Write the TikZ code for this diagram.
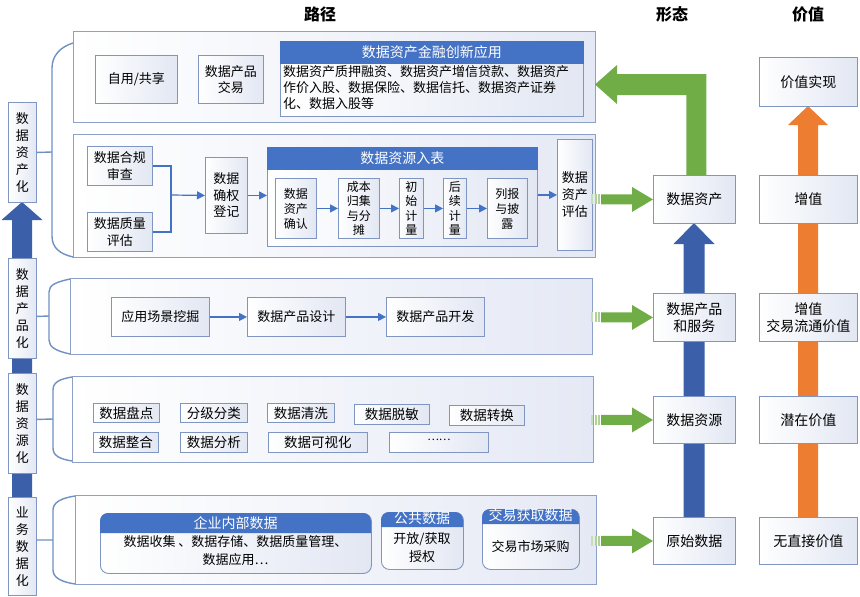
\documentclass[tikz,border=0pt]{standalone}
\usepackage{fontspec}
\setmainfont{Noto Sans CJK SC}
\usetikzlibrary{arrows.meta}
\definecolor{bord}{RGB}{127,150,195}
\definecolor{pbord}{RGB}{140,160,200}
\definecolor{bfill}{RGB}{226,231,243}
\definecolor{pfill}{RGB}{229,233,245}
\definecolor{hdr}{RGB}{68,114,196}
\definecolor{blu}{RGB}{59,95,168}
\definecolor{grn}{RGB}{112,173,71}
\definecolor{org}{RGB}{237,125,49}
\definecolor{brkc}{RGB}{110,145,196}
\newcommand\fs[2]{\fontsize{#1}{#2}\selectfont}
\newcommand\bx[6][]{\node[box,minimum width=#4pt,minimum height=#5pt,#1] (#2) at (#3) {#6};}
\newcommand\hd[6][]{\node[hdrbox,minimum width=#4pt,minimum height=#5pt,#1] (#2) at (#3) {#6};}
\newcommand\garr[1]{%
 \fill[grn] ([xshift=-52pt,yshift=5pt]#1.west) -- ([xshift=-21pt,yshift=5pt]#1.west) -- ([xshift=-21pt,yshift=12.5pt]#1.west) -- (#1.west) -- ([xshift=-21pt,yshift=-12.5pt]#1.west) -- ([xshift=-21pt,yshift=-5pt]#1.west) -- ([xshift=-52pt,yshift=-5pt]#1.west) -- cycle;
 \fill[grn!55] ([xshift=-55pt,yshift=5pt]#1.west) rectangle ([xshift=-53pt,yshift=-5pt]#1.west);
 \fill[grn!55] ([xshift=-58.5pt,yshift=5pt]#1.west) rectangle ([xshift=-56.5pt,yshift=-5pt]#1.west);
 \fill[grn!40] ([xshift=-62pt,yshift=5pt]#1.west) rectangle ([xshift=-60pt,yshift=-5pt]#1.west);
}
\begin{document}
\begin{tikzpicture}[x=1pt,y=-1pt,
 box/.style={draw=bord,line width=0.9pt,left color=white,right color=bfill,anchor=north west,inner sep=1pt,align=center,font=\fs{13}{16.5}},
 panel/.style={box,draw=pbord,right color=pfill},
 hdrbox/.style={anchor=north west,fill=hdr,draw=hdr,line width=0.9pt,inner sep=0pt,text=white,font=\fs{14}{16}},
 conn/.style={draw=hdr,line width=1.2pt},
 arr/.style={conn,-{Triangle[length=8pt,width=8pt]}},
 brk/.style={draw=brkc,line width=1.4pt},
 ttl/.style={font=\fs{16}{18}\bfseries},
 txt/.style={inner sep=0pt,align=center,font=\fs{13}{17}}
]
\useasboundingbox (0,0) rectangle (860,597);
% titles
\node[ttl] (t1) at (320,14) {路径};
\node[ttl] (t2) at (672,14) {形态};
\node[ttl] (t3) at (808,14) {价值};

% panels
\bx[panel]{P1}{73,31}{522}{91}{}
\bx[panel]{P2}{73,134}{522}{123}{}
\bx[panel]{P3}{70,278}{522}{76}{}
\bx[panel]{P4}{72,376}{521}{86}{}
\bx[panel]{P5}{75,495}{521}{89}{}

% left blue arrow (behind labels)
\coordinate (lb) at (22,595);
\coordinate (lt) at (22,202);
\fill[blu] ([xshift=-10pt]lb) -- ([xshift=-10pt,yshift=-18pt]lt) -- ([xshift=-20.5pt,yshift=-18pt]lt) -- (lt) -- ([xshift=20.5pt,yshift=-18pt]lt) -- ([xshift=10pt,yshift=-18pt]lt) -- ([xshift=10pt]lb) -- cycle;

% left labels
\bx[font=\fs{13}{17}]{L1}{8,102}{28}{100}{数\\据\\资\\产\\化}
\bx[font=\fs{13}{17}]{L2}{8,258}{28}{100}{数\\据\\产\\品\\化}
\bx[font=\fs{13}{17}]{L3}{8,373}{28}{100}{数\\据\\资\\源\\化}
\bx[font=\fs{13}{17}]{L4}{8,497}{28}{98}{业\\务\\数\\据\\化}

% brackets
\draw[brk] (L1.east) -- (52,152);
\draw[brk] (73,43) .. controls (60,47) and (52,56) .. (52,68) -- (52,236) .. controls (52,248) and (60,254) .. (73,257);
\draw[brk] (L2.east |- P3.west) -- (49,316);
\draw[brk] (70,279) .. controls (56,282) and (49,285) .. (49,292) -- (49,340) .. controls (49,347) and (56,351) .. (70,354);
\draw[brk] (L3.east |- P4.west) -- (53,419);
\draw[brk] (72,377) .. controls (60,379) and (53,382) .. (53,390) -- (53,448) .. controls (53,456) and (60,459) .. (72,461);
\draw[brk] (L4.east |- P5.west) -- (53,540);
\draw[brk] (75,496) .. controls (62,498) and (53,502) .. (53,510) -- (53,570) .. controls (53,578) and (62,582) .. (75,584);

% panel 1
\bx{zy}{95,55}{82}{48}{自用/共享}
\bx{jy}{198,55}{65}{48}{数据产品\\交易}
\bx{jrb}{280,63}{303}{53}{}
\hd{jrh}{280,41}{303}{22}{数据资产金融创新应用}
\node[txt,anchor=north west,align=left,font=\fs{13}{16}] (jrt) at (283,65) {数据资产质押融资、数据资产增信贷款、数据资产\\作价入股、数据保险、数据信托、数据资产证券\\化、数据入股等};

% panel 2
\bx{hg}{87,146}{65}{39}{数据合规\\审查}
\bx{zl}{87,212}{65}{39}{数据质量\\评估}
\bx{qq}{205,157}{42}{76}{数据\\确权\\登记}
\bx{rbb}{267,169}{270}{77}{}
\hd{rbh}{267,147}{270}{22}{数据资源入表}
\bx[font=\fs{12}{15}]{a1}{275,178}{41}{60}{数据\\资产\\确认}
\bx[font=\fs{12}{14.5}]{a2}{338,178}{41}{60}{成本\\归集\\与分\\摊}
\bx[font=\fs{12}{14.5}]{a3}{399,178}{24}{60}{初\\始\\计\\量}
\bx[font=\fs{12}{14.5}]{a4}{443,178}{23}{60}{后\\续\\计\\量}
\bx[font=\fs{12}{15}]{a5}{487,178}{40}{60}{列报\\与披\\露}
\bx[font=\fs{13}{17}]{pg}{557,139}{35}{111}{数据\\资产\\评估}
\coordinate (jn) at (171,195);
\draw[conn] (hg.east) -| (jn);
\draw[conn] (zl.east) -| (jn);
\draw[arr] (jn) -- (qq.west);
\draw[arr] (qq.east) -- (qq.east -| rbb.west);
\draw[arr] (a1.east) -- (a2.west);
\draw[arr] (a2.east) -- (a3.west);
\draw[arr] (a3.east) -- (a4.west);
\draw[arr] (a4.east) -- (a5.west);
\draw[arr] (rbb.east |- pg.west) -- (pg.west);

% panel 3
\bx{cj}{111,297}{98}{39}{应用场景挖掘}
\bx{sj}{247,297}{98}{39}{数据产品设计}
\bx{kf}{386,297}{98}{39}{数据产品开发}
\draw[arr] (cj.east) -- (sj.west);
\draw[arr] (sj.east) -- (kf.west);

% panel 4
\bx[font=\fs{13.5}{15}]{b1}{93,403}{66}{19}{数据盘点}
\bx[font=\fs{13.5}{15}]{b2}{180,403}{67}{19}{分级分类}
\bx[font=\fs{13.5}{15}]{b3}{267,403}{67}{19}{数据清洗}
\bx[font=\fs{13.5}{15}]{b4}{354,404}{75}{20}{数据脱敏}
\bx[font=\fs{13.5}{15}]{b5}{449,405}{75}{20}{数据转换}
\bx[font=\fs{13.5}{15}]{b6}{93,432}{65}{20}{数据整合}
\bx[font=\fs{13.5}{15}]{b7}{180,432}{67}{20}{数据分析}
\bx[font=\fs{13.5}{15}]{b8}{268,432}{99}{20}{数据可视化}
\bx[font=\fs{10}{12}]{b9}{389,432}{99}{20}{}
\node[txt,font=\fs{11}{12}] (b9t) at ([yshift=3pt]b9.center) {……};

% panel 5
\bx[rounded corners=8pt]{g1}{100,513}{271}{60}{}
\fill[hdr] (100,533) {[rounded corners=8pt] -- (100,513) -- (371,513)} -- (371,533) -- cycle;
\node[txt,text=white,font=\fs{14}{16}] (g1h) at (235.5,523) {企业内部数据};
\node[txt,font=\fs{13}{18}] (g1t) at (235.5,551) {数据收集 、数据存储、数据质量管理、\\数据应用…};
\bx[rounded corners=8pt]{g2}{381,512}{82}{57}{}
\fill[hdr] (381,527) {[rounded corners=8pt] -- (381,512) -- (463,512)} -- (463,527) -- cycle;
\node[txt,text=white,font=\fs{14}{16}] (g2h) at (422,518.5) {公共数据};
\node[txt,font=\fs{13}{18}] (g2t) at (422,548) {开放/获取\\授权};
\bx[rounded corners=8pt]{g3}{482,509}{97}{60}{}
\fill[hdr] (482,524) {[rounded corners=8pt] -- (482,509) -- (579,509)} -- (579,524) -- cycle;
\node[txt,text=white,font=\fs{14}{16}] (g3h) at (530.5,515.5) {交易获取数据};
\node[txt,font=\fs{13}{18}] (g3t) at (530.5,547) {交易市场采购};

% form / value column arrows (drawn under boxes)
\coordinate (f1s) at (694,223);
\coordinate (f4c) at (694,540.5);
\fill[blu] ([xshift=-10.5pt]f4c) -- ([xshift=-10.5pt,yshift=-21pt]f1s) -- ([xshift=-20.5pt,yshift=-21pt]f1s) -- (f1s) -- ([xshift=20.5pt,yshift=-21pt]f1s) -- ([xshift=10.5pt,yshift=-21pt]f1s) -- ([xshift=10.5pt]f4c) -- cycle;
\coordinate (v1s) at (808,106);
\coordinate (v5c) at (808,540.5);
\fill[org] ([xshift=-10pt]v5c) -- ([xshift=-10pt,yshift=-19pt]v1s) -- ([xshift=-20pt,yshift=-19pt]v1s) -- (v1s) -- ([xshift=20pt,yshift=-19pt]v1s) -- ([xshift=10pt,yshift=-19pt]v1s) -- ([xshift=10pt]v5c) -- cycle;

\bx[font=\fs{14}{17}]{f1}{653,175}{82}{48}{数据资产}
\bx[font=\fs{14}{17}]{f2}{653,293}{82}{48}{数据产品\\和服务}
\bx[font=\fs{14}{17}]{f3}{653,396}{82}{47}{数据资源}
\bx[font=\fs{14}{17}]{f4}{653,517}{82}{47}{原始数据}
\bx[font=\fs{14}{17}]{v1}{759,57}{98}{49}{价值实现}
\bx[font=\fs{14}{17}]{v2}{759,175}{98}{48}{增值}
\bx[font=\fs{14}{17}]{v3}{759,293}{98}{48}{增值\\交易流通价值}
\bx[font=\fs{14}{17}]{v4}{759,396}{98}{47}{潜在价值}
\bx[font=\fs{14}{17}]{v5}{759,517}{98}{47}{无直接价值}

% green arrows
\coordinate (gt) at (595,84.5);
\fill[grn] ([xshift=-8pt]f1.north) |- (617,95) -- (617,104) -- (gt) -- (617,65) -- (617,74) -| ([xshift=12pt]f1.north) -- cycle;
\garr{f1}
\garr{f2}
\garr{f3}
\garr{f4}
\end{tikzpicture}
\end{document}
